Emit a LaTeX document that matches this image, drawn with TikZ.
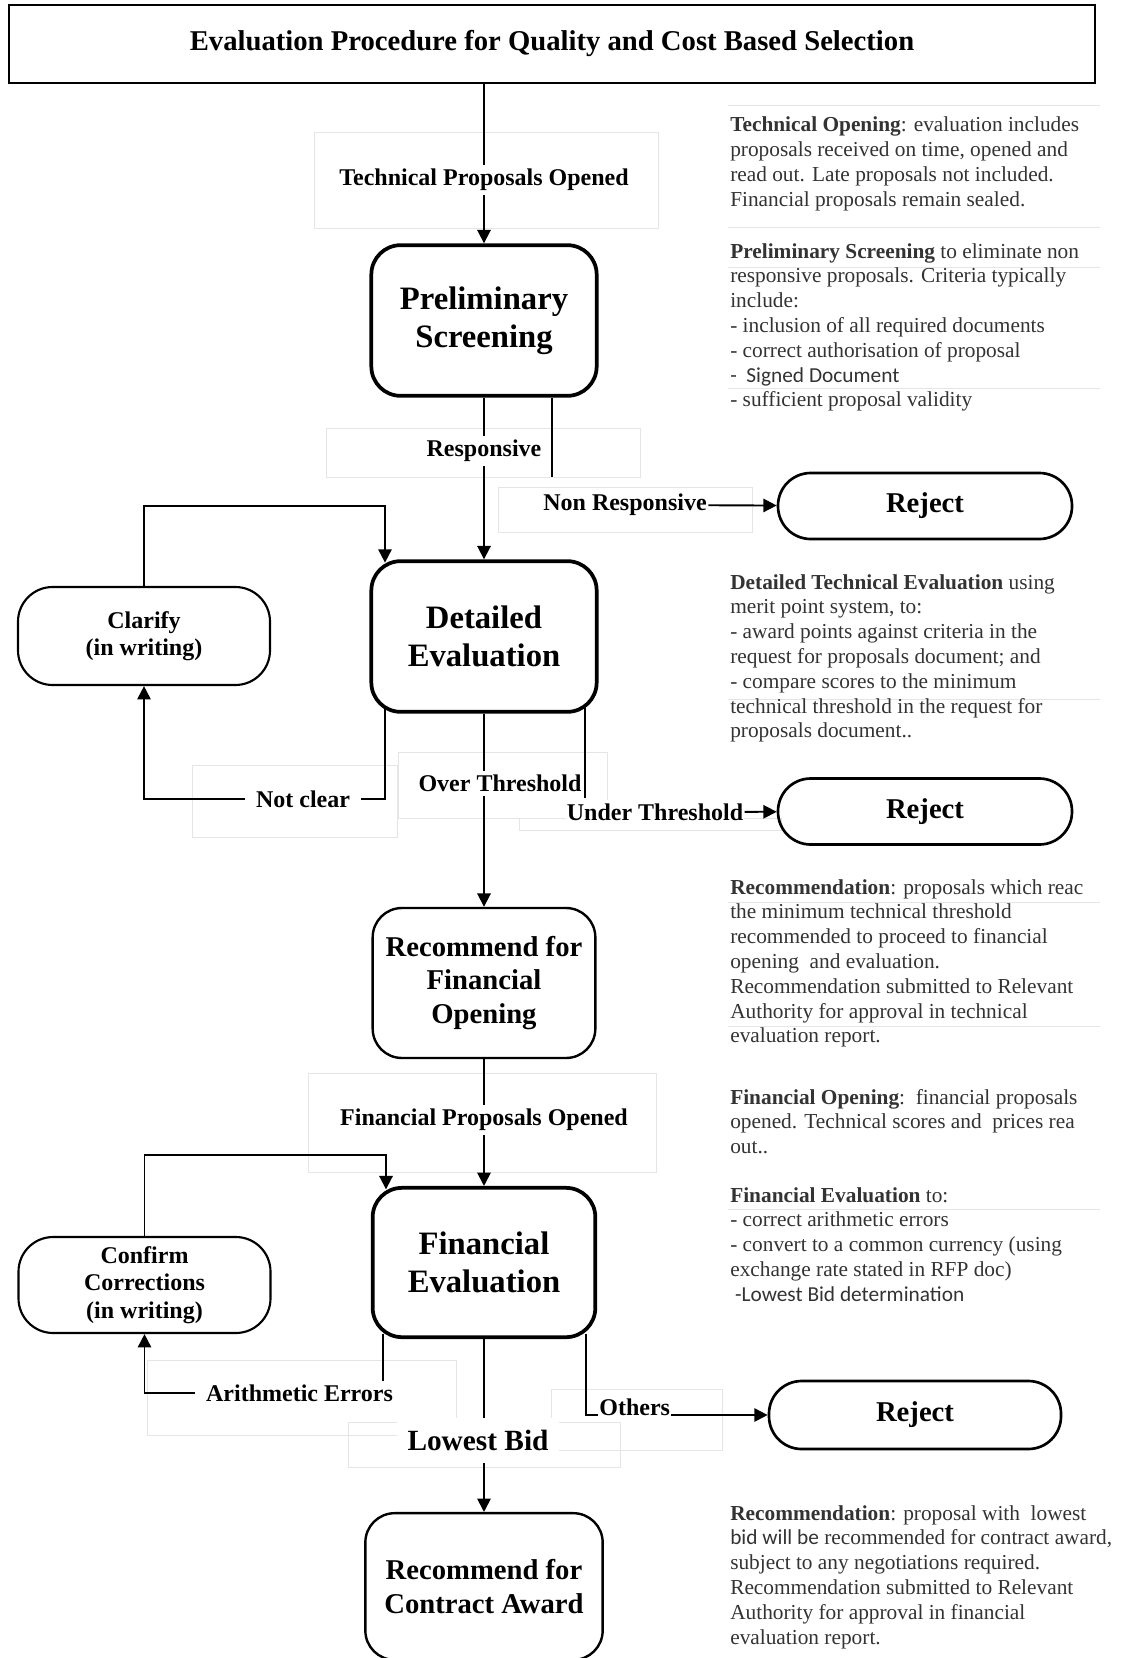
\documentclass[tikz,border=0pt]{standalone}
\usepackage{fontspec}
\setmainfont{Liberation Serif}
\newfontfamily\calibri{Carlito}
\usetikzlibrary{arrows.meta}

\begin{document}
\begin{tikzpicture}[
    x = 0.75pt, y = -0.75pt,
    conn/.style = {line width = 1.4pt},
    arr/.style = {conn, -{Triangle[length = 10pt, width = 10pt]}},
    mainbox/.style = {draw, line width = 2.8pt, rounded corners = 22pt, align = center,
                      inner sep = 0pt, minimum width = 169pt, minimum height = 113pt,
                      font = \fontsize{24.5}{28.5}\selectfont\bfseries},
    recbox/.style = {mainbox, line width = 1.8pt, minimum width = 167pt, minimum height = 112.5pt,
                     font = \fontsize{21.5}{25}\selectfont\bfseries},
    sidebox/.style = {draw, line width = 1.6pt, rounded corners = 26pt, align = center,
                      inner sep = 0pt, minimum width = 189pt, minimum height = 73.5pt,
                      font = \fontsize{18}{20.5}\selectfont\bfseries},
    rejbox/.style = {draw, line width = 2pt, rounded corners = 24.5pt, inner sep = 0pt,
                     minimum width = 220.5pt, minimum height = 49.5pt,
                     font = \fontsize{21.5}{24}\selectfont\bfseries},
    lbl/.style = {fill = white, inner xsep = 8pt, inner ysep = 3pt,
                  font = \fontsize{18}{20}\selectfont\bfseries},
    tag/.style = {lbl, inner xsep = 1pt},
    % anchored at the baseline of the last line
    note/.style = {anchor = base west, align = left, inner sep = 0pt, text = black!80,
                   font = \fontsize{16}{18.6}\selectfont},
    frame/.style = {draw = black!10, line width = 0.6pt}
  ]
  \useasboundingbox[fill = white] (0, 0) rectangle (1122, 1658);

  % faint text box frames
  \foreach \xa/\ya/\xb/\yb in {314/132/658/228, 326/428/640/477, 498/487/752/532,
                               398/752/607/818, 192/765/397/837, 519/818/781/830,
                               308/1073/656/1172, 147/1360/456/1435, 348/1422/620/1467,
                               551/1389/722/1450}
    \draw[frame] (\xa, \ya) rectangle (\xb, \yb);
  \foreach \yy in {105, 227, 267, 388, 699, 902, 1026, 1209}
    \draw[frame] (728, \yy) -- (1100, \yy);

  % boxes
  \node[draw, line width = 2.2pt, minimum width = 814.5pt, minimum height = 58.5pt,
        font = \fontsize{21.5}{24}\selectfont\bfseries] (title) at (552, 44)
        {Evaluation Procedure for Quality and Cost Based Selection};
  \node[mainbox] (prelim)   at (484, 320.5)  {Preliminary\\Screening};
  \node[mainbox] (detailed) at (484, 636.5)  {Detailed\\Evaluation};
  \node[recbox]  (recfin)   at (484, 983)    {Recommend for\\Financial\\Opening};
  \node[mainbox, minimum width = 167pt, minimum height = 112pt]
                 (fineval)  at (484, 1262.5) {Financial\\Evaluation};
  \node[recbox, minimum width = 178pt, minimum height = 110pt]
                 (contract) at (484, 1586.5) {Recommend for\\Contract Award};
  \node[sidebox] (clarify)  at (144, 636)    {Clarify\\(in writing)};
  \node[sidebox, minimum height = 72pt]
                 (confirm)  at (144.5, 1285) {Confirm\\Corrections\\(in writing)};
  \node[rejbox]  (reject1)  at (925, 506)    {Reject};
  \node[rejbox]  (reject2)  at (925, 811.5)  {Reject};
  \node[rejbox, minimum width = 219pt, minimum height = 51pt]
                 (reject3)  at (915, 1415)   {Reject};

  % main flow
  \draw[arr] (title.south -| prelim.north) -- node[lbl, pos = 0.6] (tpo) {Technical Proposals Opened} (prelim.north);
  \draw[arr] (prelim) -- node[lbl, pos = 0.33] (resp) {Responsive} (detailed);
  \draw[arr] (detailed) -- node[lbl, pos = 0.36, xshift = 12pt] (over) {Over Threshold} (recfin);
  \draw[arr] (recfin) -- node[lbl, pos = 0.48] (fpo) {Financial Proposals Opened} (fineval);
  \draw[arr] (fineval) -- node[lbl, pos = 0.585, xshift = -4.5pt, inner ysep = 9pt,
                               font = \fontsize{22}{24}\selectfont\bfseries] (lowest) {Lowest Bid} (contract);

  % screening out
  \coordinate (nrend) at (552, 477);
  \draw[conn] (prelim.south -| nrend) -- (nrend);
  \node[tag] (nonresp) at (625, 505) {Non Responsive};
  \draw[arr] (nonresp) -- (reject1);

  % clarification loop
  \coordinate (clin) at (385, 506);
  \draw[arr, shorten > = -2.5pt] (clarify) |- (clin) -- (clin |- detailed.north);
  \coordinate (ncd) at (385, 799);
  \draw[arr, shorten < = -4pt] (detailed.south -| ncd) -- (ncd)
    -- node[lbl, pos = 0.34] (notclear) {Not clear} (ncd -| clarify) -- (clarify);

  % under threshold
  \coordinate (utend) at (585, 798);
  \draw[conn, shorten < = -4pt] (detailed.south -| utend) -- (utend);
  \node[tag] (under) at (655, 812) {Under Threshold};
  \draw[arr] (under) -- (reject2);

  % corrections loop
  \coordinate (ccin) at (386, 1155);
  \draw[arr, shorten > = -2.5pt] (confirm) |- (ccin) -- (ccin |- fineval.north);
  \coordinate (aed) at (383, 1393);
  \draw[arr, shorten < = -4pt] (fineval.south -| aed) -- (aed)
    -- node[lbl, pos = 0.35] (arith) {Arithmetic Errors} (aed -| confirm) -- (confirm);

  % others
  \coordinate (otd) at (586, 1415);
  \draw[arr, shorten < = -4pt] (fineval.south -| otd) |- node[tag, pos = 0.634, yshift = 6pt] (others) {Others} (reject3);

  % notes on the right
  \node[note] (n1) at (730, 206.4) {\textbf{Technical Opening}: evaluation includes\\
    proposals received on time, opened and\\
    read out.  Late proposals not included.\\
    Financial proposals remain sealed.};
  \node[note] (n2) at (730, 406.8) {\textbf{Preliminary Screening} to eliminate non\\
    responsive proposals.  Criteria typically\\
    include:\\
    - inclusion of all required documents\\
    - correct authorisation of proposal\\
    {\calibri - \ Signed Document}\\
    - sufficient proposal validity};
  \node[note] (n3) at (730, 737.8) {\textbf{Detailed Technical Evaluation} using\\
    merit point system, to:\\
    - award points against criteria in the\\
    request for proposals document; and\\
    - compare scores to the minimum\\
    technical threshold in the request for\\
    proposals document..};
  \node[note] (n4) at (730, 1042.8) {\textbf{Recommendation}: proposals which reac\\
    the minimum technical threshold\\
    recommended to proceed to financial\\
    opening\ \ and evaluation.\\
    Recommendation submitted to Relevant\\
    Authority for approval in technical\\
    evaluation report.};
  \node[note] (n5) at (730, 1153.6) {\textbf{Financial Opening}:\ \ financial proposals\\
    opened.  Technical scores and\ \ prices rea\\
    out..};
  \node[note] (n6) at (730, 1301.2) {\textbf{Financial Evaluation} to:\\
    - correct arithmetic errors\\
    - convert to a common currency (using\\
    exchange rate stated in RFP doc)\\
    {\calibri\ -Lowest Bid determination}};
  \node[note] (n7) at (730, 1644) {\textbf{Recommendation}: proposal with\ \ lowest\\
    {\calibri bid will be} recommended for contract award,\\
    subject to any negotiations required.\\
    Recommendation submitted to Relevant\\
    Authority for approval in financial\\
    evaluation report.};
\end{tikzpicture}
\end{document}
